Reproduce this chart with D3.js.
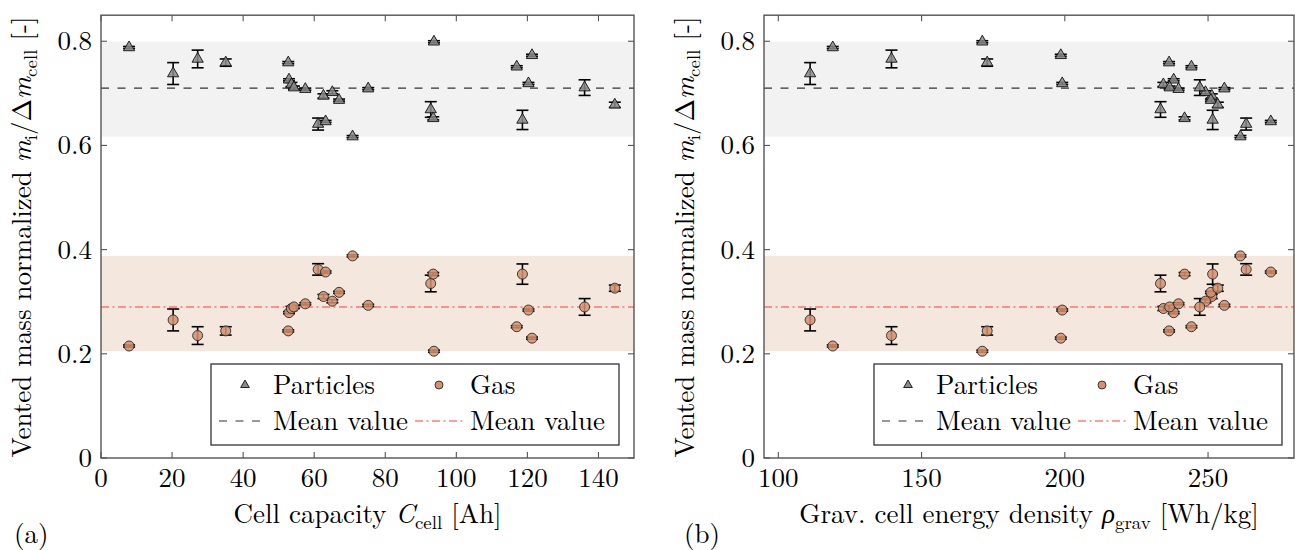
<!DOCTYPE html>
<html>
<head>
<meta charset="utf-8">
<script src="https://cdn.jsdelivr.net/npm/d3@7"></script>
<style>
  body { margin: 0; background: #fff; }
</style>
</head>
<body>
<div class="chart"></div>
<script>
// one entry per tested cell
const capacity      = [7.9, 20.3, 27.2, 35.1, 52.7, 52.9, 53.6, 54.3, 57.5, 61.1, 62.6, 63.2, 65.1, 67.0, 70.8, 75.2, 92.8, 93.5, 93.7, 117.0, 118.6, 120.3, 121.3, 136.1, 144.6];
const energyDensity = [119.0, 111.1, 139.5, 172.9, 236.4, 238.0, 234.4, 236.6, 239.7, 263.3, 251.3, 271.9, 249.1, 251.0, 261.3, 255.7, 233.4, 241.8, 171.2, 244.2, 251.6, 199.1, 198.6, 247.1, 253.4];
const particles     = [0.788, 0.738, 0.766, 0.759, 0.759, 0.726, 0.717, 0.711, 0.708, 0.641, 0.695, 0.646, 0.702, 0.687, 0.617, 0.709, 0.669, 0.652, 0.799, 0.751, 0.649, 0.719, 0.773, 0.711, 0.678];
const particlesErr  = [0.002, 0.021, 0.017, 0.007, 0.002, 0.002, 0.004, 0.003, 0.002, 0.0115, 0.004, 0.002, 0.003, 0.002, 0.002, 0.002, 0.015, 0.003, 0.002, 0.002, 0.0185, 0.002, 0.002, 0.015, 0.005];
const gas           = [0.215, 0.265, 0.235, 0.244, 0.244, 0.279, 0.287, 0.290, 0.296, 0.362, 0.310, 0.357, 0.301, 0.318, 0.388, 0.293, 0.335, 0.353, 0.205, 0.252, 0.353, 0.284, 0.230, 0.290, 0.326];
const gasErr        = [0.002, 0.021, 0.017, 0.008, 0.002, 0.002, 0.004, 0.003, 0.002, 0.011, 0.004, 0.002, 0.003, 0.002, 0.002, 0.002, 0.016, 0.003, 0.002, 0.002, 0.0195, 0.002, 0.002, 0.016, 0.006];

const meanParticles = 0.71;
const meanGas = 0.29;

const capacityTicks = [0, 20, 40, 60, 80, 100, 120, 140];
const densityTicks = [100, 150, 200, 250];
const yTicks = [0, 0.2, 0.4, 0.6, 0.8];
const yTickLabels = ["0", "0.2", "0.4", "0.6", "0.8"];

const cells = capacity.map((c, i) => ({
    capacity: c,
    density: energyDensity[i],
    p: particles[i], pe: particlesErr[i],
    g: gas[i], ge: gasErr[i]
}));

const triFill = "#8a8a8a";
const gasFill = "#d4906f";
const frameColor = "#555";
const dashBlack = "8,8.5";
const dashRed = "8,3.5,2,3.5";
const fs = 27;
const font = "'Latin Modern Roman'";

const svg = d3.select(".chart").append("svg")
    .attr("width", 1295)
    .attr("height", 550);

const yScale = d3.scaleLinear().domain([0, 0.85]).range([458, 15.2]);

function triPath(r) {
    const h = r * Math.sqrt(3) / 2;
    return `M0,${-r}L${h},${r / 2}L${-h},${r / 2}Z`;
}

function addText(sel, x, y) {
    return sel.append("text")
        .attr("x", x).attr("y", y)
        .attr("font-size", fs)
        .style("font-family", font)
        .attr("fill", "#000");
}

// text with italic symbol and subscript
function mathText(sel, parts) {
    parts.forEach(p => {
        const t = sel.append("tspan").text(p.t).style("font-family", font);
        if (p.it) t.style("font-style", "italic");
        if (p.sub) t.attr("font-size", fs * 0.7).attr("dy", 6);
        if (p.up) t.attr("dy", -6);
    });
}

function drawPanel(o) {
    const xScale = d3.scaleLinear().domain(o.xDomain).range(o.xRange);
    const [x0, x1] = o.xRange;
    const [yb, yt] = yScale.range();
    const g = svg.append("g");

    // min-max bands
    const pExt = d3.extent(particles);
    const gExt = d3.extent(gas);
    g.append("rect")
        .attr("x", x0).attr("width", x1 - x0)
        .attr("y", yScale(pExt[1])).attr("height", yScale(pExt[0]) - yScale(pExt[1]))
        .attr("fill", "#f2f2f2");
    g.append("rect")
        .attr("x", x0).attr("width", x1 - x0)
        .attr("y", yScale(gExt[1])).attr("height", yScale(gExt[0]) - yScale(gExt[1]))
        .attr("fill", "#f4e7de");

    // mean values
    g.append("line")
        .attr("x1", x0).attr("x2", x1)
        .attr("y1", yScale(meanParticles)).attr("y2", yScale(meanParticles))
        .attr("stroke", "#333").attr("stroke-width", 1.1)
        .attr("stroke-dasharray", dashBlack);
    g.append("line")
        .attr("x1", x0).attr("x2", x1)
        .attr("y1", yScale(meanGas)).attr("y2", yScale(meanGas))
        .attr("stroke", "#ff3c3c").attr("stroke-width", 1.1)
        .attr("stroke-dasharray", dashRed);

    const series = [
        {val: "p", err: "pe", shape: "tri"},
        {val: "g", err: "ge", shape: "circ"}
    ];

    series.forEach(s => {
        const eb = g.append("g");
        cells.forEach(d => {
            const cx = xScale(d[o.xKey]);
            const lo = yScale(d[s.val] - d[s.err]);
            const hi = yScale(d[s.val] + d[s.err]);
            eb.append("line").attr("x1", cx).attr("x2", cx).attr("y1", lo).attr("y2", hi)
                .attr("stroke", "#000").attr("stroke-width", 1.6);
            [lo, hi].forEach(yy => {
                eb.append("line").attr("x1", cx - 6).attr("x2", cx + 6).attr("y1", yy).attr("y2", yy)
                    .attr("stroke", "#000").attr("stroke-width", 1.6);
            });
        });

        if (s.shape === "tri") {
            g.selectAll(null)
                .data(cells)
                .enter()
                .append("path")
                .attr("d", triPath(6.5))
                .attr("transform", d => `translate(${xScale(d[o.xKey])},${yScale(d[s.val])})`)
                .attr("fill", triFill)
                .attr("fill-opacity", 0.85)
                .attr("stroke", "#111")
                .attr("stroke-width", 0.9);
        } else {
            g.selectAll(null)
                .data(cells)
                .enter()
                .append("circle")
                .attr("cx", d => xScale(d[o.xKey]))
                .attr("cy", d => yScale(d[s.val]))
                .attr("r", 5)
                .attr("fill", gasFill)
                .attr("fill-opacity", 0.85)
                .attr("stroke", "#2a2a2a")
                .attr("stroke-width", 0.9);
        }
    });

    // frame
    g.append("rect")
        .attr("x", x0).attr("y", yt).attr("width", x1 - x0).attr("height", yb - yt)
        .attr("fill", "none").attr("stroke", frameColor).attr("stroke-width", 1.4);

    // ticks inward on all four sides
    o.xTicks.forEach(t => {
        const xx = xScale(t);
        g.append("line").attr("x1", xx).attr("x2", xx).attr("y1", yb).attr("y2", yb - 6)
            .attr("stroke", frameColor).attr("stroke-width", 1.1);
        g.append("line").attr("x1", xx).attr("x2", xx).attr("y1", yt).attr("y2", yt + 6)
            .attr("stroke", frameColor).attr("stroke-width", 1.1);
        addText(g, xx, 487).attr("text-anchor", "middle").text(t);
    });
    yTicks.forEach((t, i) => {
        const yy = yScale(t);
        g.append("line").attr("x1", x0).attr("x2", x0 + 6).attr("y1", yy).attr("y2", yy)
            .attr("stroke", frameColor).attr("stroke-width", 1.1);
        g.append("line").attr("x1", x1).attr("x2", x1 - 6).attr("y1", yy).attr("y2", yy)
            .attr("stroke", frameColor).attr("stroke-width", 1.1);
        addText(g, x0 - 9, yy + 9).attr("text-anchor", "end").text(yTickLabels[i]);
    });

    // axis titles
    const xt = addText(g, (x0 + x1) / 2, 523).attr("text-anchor", "middle");
    mathText(xt, o.xTitle);

    const yl = addText(g, 0, 0)
        .attr("transform", `translate(${x0 - 70},237) rotate(-90)`)
        .attr("text-anchor", "middle");
    mathText(yl, [
        {t: "Vented mass normalized "}, {t: "m", it: true}, {t: "i", sub: true},
        {t: "/Δ", up: true}, {t: "m", it: true}, {t: "cell", sub: true}, {t: " [-]", up: true}
    ]);

    addText(g, o.tagX, 543).text(o.tag);

    // legend
    const lx = x0 + 110, ly = 364, lw = 408, lh = 81;
    const leg = g.append("g");
    leg.append("rect").attr("x", lx).attr("y", ly).attr("width", lw).attr("height", lh)
        .attr("fill", "#fff").attr("stroke", "#333").attr("stroke-width", 1.3);
    const r1 = ly + 21, r2 = ly + 57;
    leg.append("path").attr("d", triPath(5))
        .attr("transform", `translate(${lx + 34},${r1})`)
        .attr("fill", triFill).attr("stroke", "#111").attr("stroke-width", 0.9);
    addText(leg, lx + 62, r1 + 9).text("Particles");
    leg.append("circle").attr("cx", lx + 228).attr("cy", r1).attr("r", 4)
        .attr("fill", gasFill).attr("stroke", "#2a2a2a").attr("stroke-width", 0.9);
    addText(leg, lx + 259, r1 + 9).text("Gas");
    leg.append("line").attr("x1", lx + 8).attr("x2", lx + 51).attr("y1", r2).attr("y2", r2)
        .attr("stroke", "#333").attr("stroke-width", 1.1).attr("stroke-dasharray", dashBlack);
    addText(leg, lx + 62, r2 + 9).text("Mean value");
    leg.append("line").attr("x1", lx + 204).attr("x2", lx + 252).attr("y1", r2).attr("y2", r2)
        .attr("stroke", "#ff3c3c").attr("stroke-width", 1.1).attr("stroke-dasharray", dashRed);
    addText(leg, lx + 259, r2 + 9).text("Mean value");
}

drawPanel({
    xKey: "capacity",
    xDomain: [0, 150],
    xRange: [101, 634],
    xTicks: capacityTicks,
    xTitle: [{t: "Cell capacity "}, {t: "C", it: true}, {t: "cell", sub: true}, {t: " [Ah]", up: true}],
    tag: "(a)",
    tagX: 14
});

drawPanel({
    xKey: "density",
    xDomain: [95, 280],
    xRange: [764, 1294],
    xTicks: densityTicks,
    xTitle: [{t: "Grav. cell energy density "}, {t: "ρ", it: true}, {t: "grav", sub: true}, {t: " [Wh/kg]", up: true}],
    tag: "(b)",
    tagX: 684
});
</script>
</body>
</html>
